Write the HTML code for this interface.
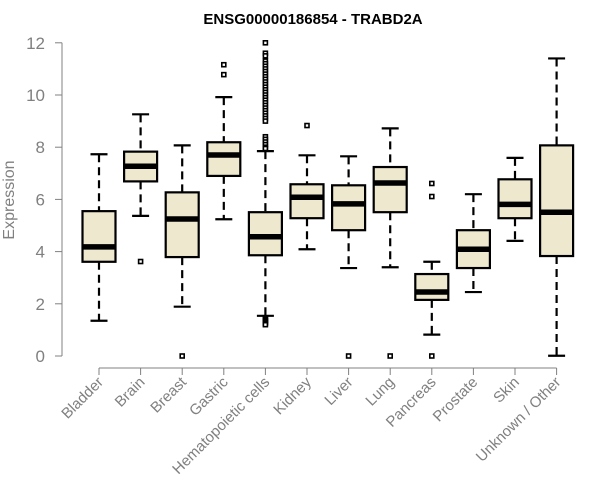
<!DOCTYPE html>
<html><head><meta charset="utf-8"><style>
body{margin:0;background:#fff;}
svg{display:block;font-family:"Liberation Sans",Arial,sans-serif;}
</style></head><body>
<svg id="chart" width="600" height="500" viewBox="0 0 600 500">
<text x="313" y="24" text-anchor="middle" font-weight="bold" font-size="15" fill="#000">ENSG00000186854 - TRABD2A</text>
<text transform="translate(14,200) rotate(-90)" text-anchor="middle" font-size="16" fill="#808080">Expression</text>
<g id="yaxis"></g>
<g id="xaxis"></g>
<g id="boxes"></g>
</svg>
<script>
const categories=["Bladder","Brain","Breast","Gastric","Hematopoietic cells","Kidney","Liver","Lung","Pancreas","Prostate","Skin","Unknown / Other"];
const whiskerLow=[1.35,5.37,1.89,5.24,1.54,4.09,3.37,3.40,0.82,2.45,4.41,0.01];
const q1=[3.61,6.69,3.79,6.90,3.86,5.28,4.82,5.51,2.15,3.37,5.28,3.83];
const medians=[4.18,7.27,5.25,7.70,4.57,6.08,5.83,6.63,2.45,4.09,5.81,5.51];
const q3=[5.55,7.83,6.27,8.19,5.51,6.58,6.54,7.24,3.14,4.82,6.77,8.07];
const whiskerHigh=[7.73,9.26,8.07,9.92,7.85,7.69,7.65,8.72,3.61,6.20,7.59,11.40];
const outliers=[[],[3.62],[0],[11.16,10.78],
[12.0,11.6,11.5,11.3,11.2,11.1,11.0,10.9,10.8,10.7,10.6,10.5,10.4,10.3,10.2,10.1,10.0,9.9,9.8,9.7,9.6,9.5,9.4,9.3,9.2,9.1,9.0,8.4,8.3,8.2,8.1,8.0,7.95,1.45,1.4,1.35,1.3,1.25,1.2],
[8.83],[0],[0],[6.61,6.11,0],[],[],[]];
const yTicks=[0,2,4,6,8,10,12];
const NS="http://www.w3.org/2000/svg";
const y=v=>356-v*26.1;
const x=i=>99+i*41.6;
function mk(tag,attrs,parent){const e=document.createElementNS(NS,tag);for(const k in attrs)e.setAttribute(k,attrs[k]);parent.appendChild(e);return e;}
const ya=document.getElementById('yaxis'),xa=document.getElementById('xaxis'),bx=document.getElementById('boxes');
mk('line',{x1:62,x2:62,y1:y(0),y2:y(12),stroke:'#808080','stroke-width':1},ya);
yTicks.forEach(t=>{
 const l=mk('line',{x1:55,x2:62,y1:y(t),y2:y(t),stroke:'#808080'},ya);
 
 
 const tx=mk('text',{x:45,y:y(t)+6,'text-anchor':'end','font-size':17,fill:'#808080'},ya);
 tx.textContent=t;
 
 
});
mk('line',{x1:x(0),x2:x(categories.length-1),y1:368,y2:368,stroke:'#808080'},xa);
categories.forEach((c,i)=>{
 const l=mk('line',{x1:x(i),x2:x(i),y1:368,y2:375,stroke:'#808080'},xa);
 
 
 const tx=mk('text',{transform:`translate(${x(i)+5},383) rotate(-45)`,'text-anchor':'end','font-size':15,fill:'#808080'},xa);
 tx.textContent=c;
 
 
});
categories.forEach((c,i)=>{
 const g=mk('g',{},bx);
 
 
 const cx=x(i),hw=16.5,cw=8.5;
 mk('line',{x1:cx,x2:cx,y1:y(whiskerHigh[i]),y2:y(q3[i]),stroke:'#000','stroke-width':2.2,'stroke-dasharray':'8,5'},g);
 mk('line',{x1:cx,x2:cx,y1:y(q1[i]),y2:y(whiskerLow[i]),stroke:'#000','stroke-width':2.2,'stroke-dasharray':'8,5'},g);
 mk('line',{x1:cx-cw,x2:cx+cw,y1:y(whiskerHigh[i]),y2:y(whiskerHigh[i]),stroke:'#000','stroke-width':2.2},g);
 mk('line',{x1:cx-cw,x2:cx+cw,y1:y(whiskerLow[i]),y2:y(whiskerLow[i]),stroke:'#000','stroke-width':2.2},g);
 mk('rect',{x:cx-hw,y:y(q3[i]),width:hw*2,height:y(q1[i])-y(q3[i]),fill:'#ede8ce',stroke:'#000','stroke-width':2.2},g);
 mk('line',{x1:cx-hw,x2:cx+hw,y1:y(medians[i]),y2:y(medians[i]),stroke:'#000','stroke-width':5.5},g);
 outliers[i].forEach(v=>{
  const r=mk('rect',{x:cx-2,y:y(v)-2,width:4,height:4,fill:'#fff',stroke:'#000','stroke-width':1.6},g);
  
  
 });
});
</script>
</body></html>
